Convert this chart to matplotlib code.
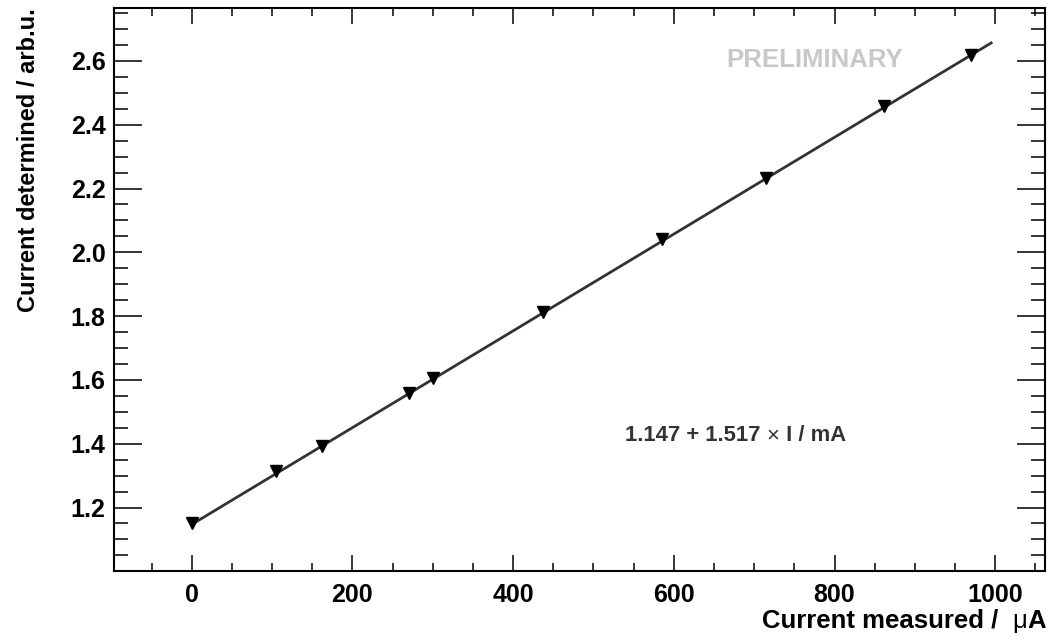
#!/usr/bin/env python3

import numpy as np
import matplotlib
matplotlib.use('Agg')
import matplotlib.pyplot as plt
from matplotlib.ticker import MultipleLocator

# measured points (current measured in uA, determined current in arb.u.)
i_measured = [0, 105, 162, 270, 300, 437, 585, 715, 862, 970]
i_determined = [1.152, 1.313, 1.394, 1.560, 1.607, 1.814, 2.042, 2.233, 2.459, 2.619]

# linear fit result
fit_offset = 1.147
fit_slope = 1.517      # per mA
fit_range = [0, 995]

x_ticks = [0, 200, 400, 600, 800, 1000]
y_ticks = [1.2, 1.4, 1.6, 1.8, 2.0, 2.2, 2.4, 2.6]

plt.rcParams['font.family'] = ['Liberation Sans', 'DejaVu Sans']

fig = plt.figure(figsize=(10.51, 6.39), dpi=100)
ax = fig.add_axes([0.1085, 0.1069, 0.8858, 0.8801])

xf = np.linspace(fit_range[0], fit_range[1], 200)
ax.plot(xf, fit_offset + fit_slope * xf / 1000.0, '-', color='#333333', lw=2.0, zorder=2)
ax.plot(i_measured, i_determined, 'v', color='black', ms=8, zorder=3)

ax.set_xlim(-96.7, 1062)
ax.set_ylim(1.002, 2.765)

ax.set_xticks(x_ticks)
ax.set_yticks(y_ticks)
ax.set_xticklabels([str(v) for v in x_ticks])
ax.set_yticklabels(['%.1f' % v for v in y_ticks])
ax.xaxis.set_minor_locator(MultipleLocator(50))
ax.yaxis.set_minor_locator(MultipleLocator(0.05))

ax.tick_params(axis='both', which='both', direction='in', top=True, right=True,
	width=1.1, colors='black')
ax.tick_params(axis='x', which='major', length=11.5, pad=9)
ax.tick_params(axis='x', which='minor', length=5.8)
ax.tick_params(axis='y', which='major', length=20, pad=6)
ax.tick_params(axis='y', which='minor', length=10)
for lab in ax.get_xticklabels() + ax.get_yticklabels():
	lab.set_fontweight('bold')
	lab.set_fontsize(18)
for sp in ax.spines.values():
	sp.set_linewidth(1.5)

# x axis title: "Current measured /  uA" with a plain mu
xa = ax.annotate('A', xy=(1.0, 0), xycoords=fig.transFigure, xytext=(1046 / 1051, 1 - 628 / 639),
	textcoords='figure fraction', ha='right', va='baseline', fontsize=18.5, fontweight='bold')
xm = ax.annotate('\u03bc', xy=(0, 0), xycoords=xa, ha='right', va='bottom', fontsize=18.5,
	fontweight='normal')
ax.annotate('Current measured /  ', xy=(0, 0), xycoords=xm, ha='right', va='bottom',
	fontsize=18.5, fontweight='bold')

fig.text(29 / 1051, 1 - 8 / 639, 'Current determined / arb.u.', rotation=90, ha='center',
	va='top', fontsize=17, fontweight='bold')

fig.text(815 / 1051, 1 - 60 / 639, 'PRELIMINARY', color='#c8c8c8', fontsize=18.5,
	fontweight='bold', ha='center', va='center')

# fit result text
f1 = fig.text(625 / 1051, 1 - 441 / 639, '%.3f + %.3f ' % (fit_offset, fit_slope),
	color='#333333', fontsize=15.8, fontweight='bold', ha='left', va='baseline')
f2 = ax.annotate('\u00d7', xy=(1, 0), xycoords=f1, ha='left', va='bottom', fontsize=15.8,
	color='#333333', fontweight='normal')
ax.annotate(' I / mA', xy=(1, 0), xycoords=f2, ha='left', va='bottom', fontsize=15.8,
	color='#333333', fontweight='bold')

fig.savefig('out.png', dpi=100)
